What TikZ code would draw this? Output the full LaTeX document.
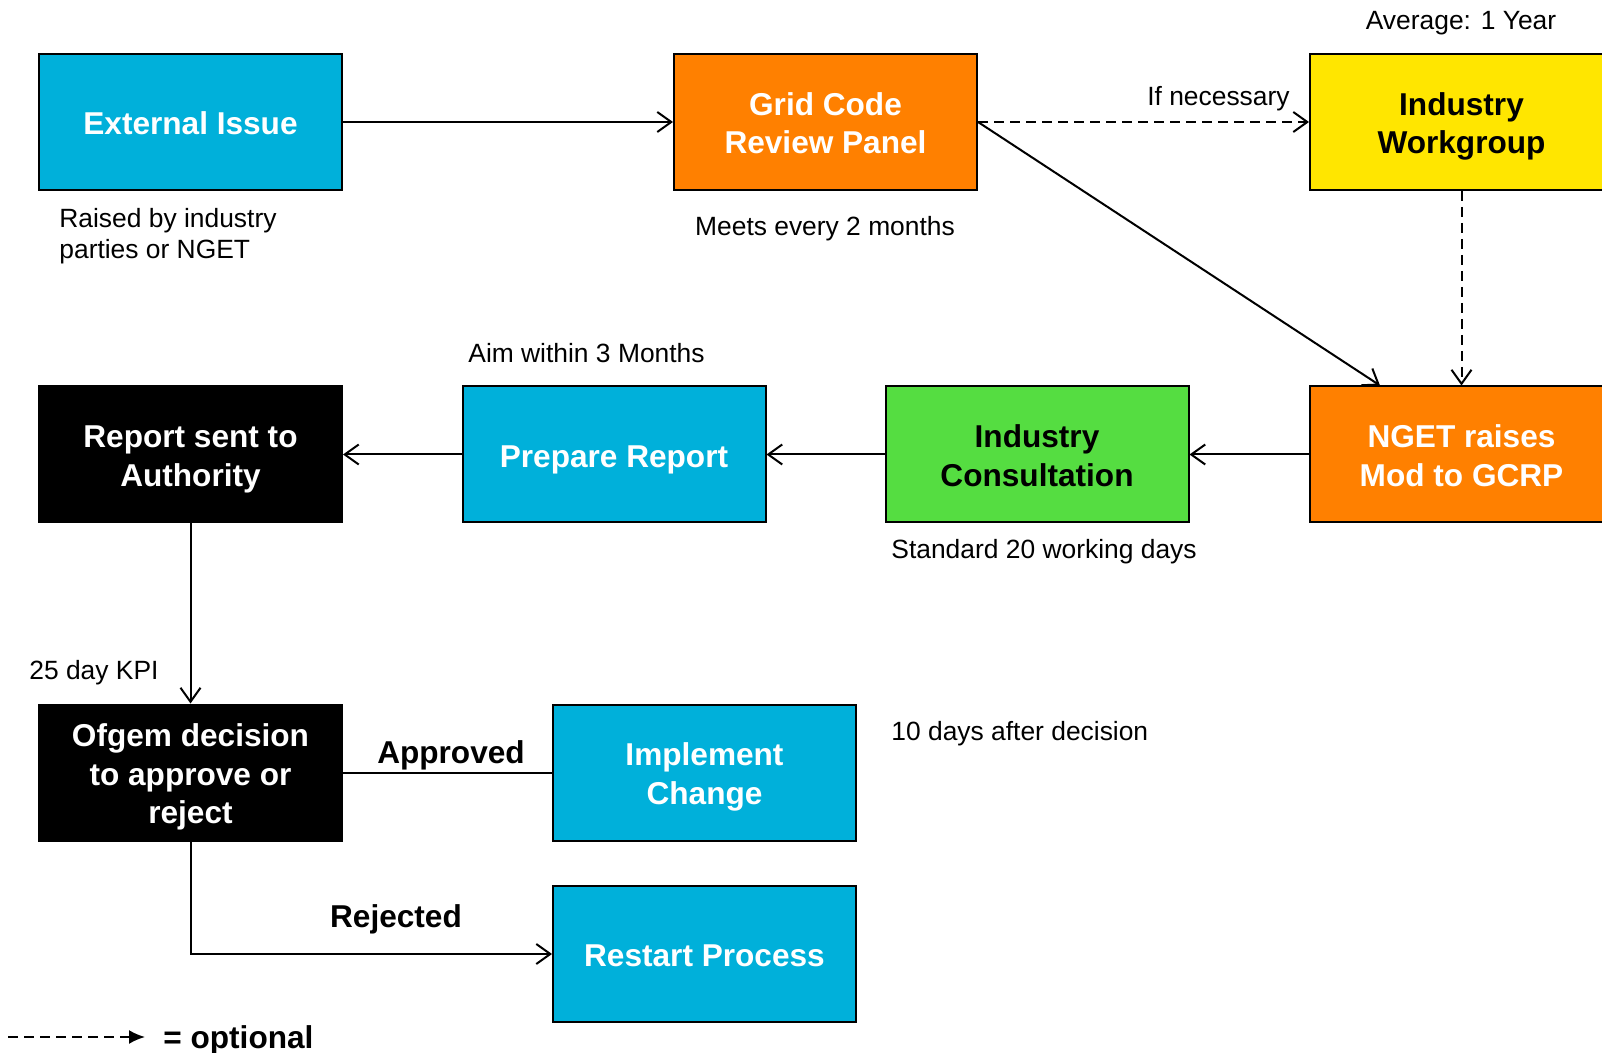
\documentclass[tikz,border=0pt]{standalone}
\usepackage{fontspec}
\setmainfont{Liberation Sans}
\usetikzlibrary{arrows.meta}

\definecolor{boxcyan}{RGB}{0,176,218}
\definecolor{boxorange}{RGB}{255,128,0}
\definecolor{boxyellow}{RGB}{255,230,0}
\definecolor{boxgreen}{RGB}{85,221,65}

\newcommand\ls{\rule[-0.212em]{0pt}{1.117em}}
\newcommand\bs{\rule[-0.212em]{0pt}{1.22em}}

\tikzset{
  procbox/.style={draw=black,line width=1pt,minimum width=151.5pt,minimum height=68pt,
    inner sep=0pt,align=center,font=\fontsize{15.8}{19.4}\selectfont\bfseries},
  cyanbox/.style={procbox,fill=boxcyan,text=white},
  orangebox/.style={procbox,fill=boxorange,text=white},
  yellowbox/.style={procbox,fill=boxyellow,text=black},
  greenbox/.style={procbox,fill=boxgreen,text=black},
  blackbox/.style={procbox,fill=black,text=white},
  note/.style={font=\fontsize{13.2}{15.8}\selectfont,inner sep=0pt,align=left},
  bignote/.style={font=\fontsize{15.8}{19.4}\selectfont\bfseries,inner sep=0pt},
  flow/.style={line width=1pt,-{Straight Barb[length=7pt,width=10pt,line width=1pt]}},
  optflow/.style={flow,dash pattern=on 5pt off 3pt}
}

\begin{document}
\begin{tikzpicture}[x=0.5pt,y=-0.5pt]
  \useasboundingbox (0,0) rectangle (1602,1053);

  % caixas
  \node[cyanbox]   (ext)  at (190.5,122)   {\bs External Issue\ls};
  \node[orangebox] (gcrp) at (825.5,122)   {\bs Grid Code\\Review Panel\ls};
  \node[yellowbox] (iwg)  at (1461.5,122)  {\bs Industry\\Workgroup\ls};
  \node[orangebox] (nget) at (1461.5,454.5) {\bs NGET raises\\Mod to GCRP\ls};
  \node[greenbox]  (cons) at (1037,454.5)  {\bs Industry\\Consultation\ls};
  \node[cyanbox]   (prep) at (614,454.5)   {\bs Prepare Report\ls};
  \node[blackbox]  (rep)  at (190.5,454.5) {\bs Report sent to\\Authority\ls};
  \node[blackbox]  (ofg)  at (190.5,772.5) {\bs Ofgem decision\\to approve or\\reject\ls};
  \node[cyanbox]   (impl) at (704.5,772.5) {\bs Implement\\Change\ls};
  \node[cyanbox]   (rest) at (704.5,954)   {\bs Restart Process\ls};

  % textos
  \node[note] (avg)   at (1461,20)  {\ls Average: 1 Year\ls};
  \node[note,anchor=east] (ifnec) at (1290,96) {\ls If necessary\ls};
  \node[note,anchor=west] (raised) at (59,234) {\ls Raised by industry\\parties or NGET\ls};
  \node[note] (meets) at (825,226) {\ls Meets every 2 months\ls};
  \node[note,anchor=west] (aim) at (468,353) {\ls Aim within 3 Months\ls};
  \node[note,anchor=west] (std) at (891,549) {\ls Standard 20 working days\ls};
  \node[note,anchor=west] (kpi) at (29,670) {\ls 25 day KPI\ls};
  \node[note,anchor=west] (tend) at (891,731) {\ls 10 days after decision\ls};
  \node[bignote] (appr) at (451,753) {\ls Approved\ls};
  \node[bignote] (rejd) at (396,917) {\ls Rejected\ls};

  % ligacoes
  \draw[flow] (ext) -- (gcrp);
  \draw[optflow] (gcrp) -- (iwg);
  \draw[flow] (gcrp.east) -- ([xshift=35.5pt]nget.north west);
  \draw[optflow] (iwg) -- (nget);
  \draw[flow] (nget) -- (cons);
  \draw[flow] (cons) -- (prep);
  \draw[flow] (prep) -- (rep);
  \draw[flow] (rep) -- (ofg);
  \draw[line width=1pt] (ofg) -- (impl);
  \draw[flow] (ofg.south) |- (rest.west);

  % legenda
  \coordinate (legA) at (8,1037);
  \coordinate (legB) at (145,1037);
  \draw[line width=1pt,dash pattern=on 5pt off 3pt,-{Latex[length=8pt,width=7pt]}] (legA) -- (legB);
  \node[bignote,anchor=west] (opt) at (163,1038) {\ls = optional\ls};

\end{tikzpicture}
\end{document}
